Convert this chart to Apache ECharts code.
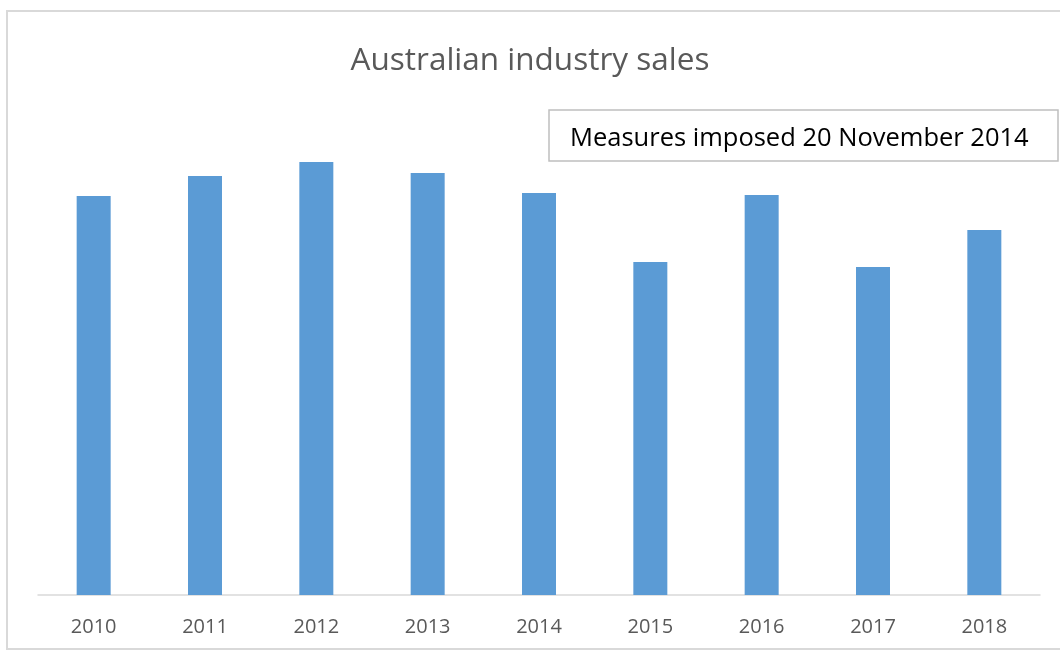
<!DOCTYPE html>
<html>
<head>
<meta charset="utf-8">
<script src="https://cdn.jsdelivr.net/npm/echarts@6/dist/echarts.min.js"></script>
<style>
  html, body { margin: 0; padding: 0; background: #fff; }
  #main { width: 1060px; height: 650px; }
</style>
</head>
<body>
<div id="main"></div>
<script>
// years on the x axis
var years = ['2010', '2011', '2012', '2013', '2014', '2015', '2016', '2017', '2018'];
// sales (no scale shown in the original, relative units)
var sales = [399, 419, 433, 422, 402, 333, 400, 328, 365];
var note = 'Measures imposed 20 November 2014';

var myChart = echarts.init(document.getElementById('main'));

myChart.setOption({
    backgroundColor: '#fff',
    animation: false,
    title: {
        text: 'Australian industry sales',
        left: 'center',
        top: 40,
        textStyle: {
            color: '#595959',
            fontFamily: 'Open Sans',
            fontSize: 31.5,
            fontWeight: 'normal'
        }
    },
    graphic: [{
        type: 'rect',
        shape: { x: 7, y: 11, width: 1060, height: 638 },
        style: { fill: 'none', stroke: '#d9d9d9', lineWidth: 2 },
        silent: true
    }, {
        type: 'rect',
        shape: { x: 549, y: 110, width: 509, height: 51 },
        style: { fill: '#fff', stroke: '#bfbfbf', lineWidth: 1.5 },
        z: 10
    }, {
        type: 'text',
        x: 570,
        y: 139,
        style: {
            text: note,
            fill: '#000',
            font: '25.5px "Open Sans"',
            verticalAlign: 'middle'
        },
        z: 11
    }],
    grid: {
        left: 38,
        right: 20,
        top: 100,
        bottom: 55
    },
    xAxis: {
        type: 'category',
        data: years,
        axisLine: { lineStyle: { color: '#d9d9d9', width: 1.5 } },
        axisTick: { show: false },
        axisLabel: {
            color: '#595959',
            fontFamily: 'Open Sans',
            fontSize: 20,
            margin: 22
        }
    },
    yAxis: {
        type: 'value',
        min: 0,
        max: 495,
        show: false
    },
    series: [{
        name: 'sales',
        type: 'bar',
        data: sales,
        barWidth: 34,
        itemStyle: { color: '#5b9bd5' }
    }]
});
</script>
</body>
</html>
